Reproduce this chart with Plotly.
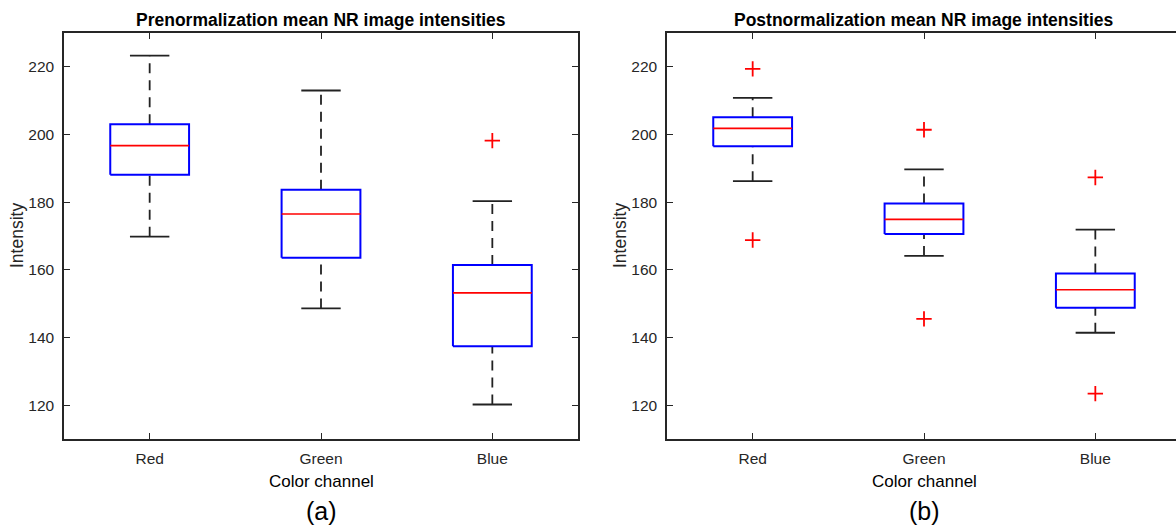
import plotly.graph_objects as go

# ---------------- data ----------------
categories = ["Red", "Green", "Blue"]

pre_q1 = [188.1, 163.6, 137.4]
pre_median = [196.7, 176.5, 153.2]
pre_q3 = [203.0, 183.7, 161.4]
pre_lower = [169.8, 148.6, 120.2]
pre_upper = [223.3, 213.0, 180.3]
pre_outliers = [[], [], [198.2]]

post_q1 = [196.5, 170.6, 148.8]
post_median = [201.8, 174.9, 154.1]
post_q3 = [205.1, 179.6, 158.9]
post_lower = [186.2, 164.1, 141.4]
post_upper = [210.8, 189.7, 171.9]
post_outliers = [[219.4, 168.8], [201.4, 145.5], [187.3, 123.4]]

y_ticks = [120, 140, 160, 180, 200, 220]

# ---------------- figure ----------------
W, H = 1176, 528
fig = go.Figure()

BOX_HW = 0.23
CAP_HW = 0.115
AXCOL = "#262626"


def add_panel(q1, med, q3, lo, hi, outs, xa, ya):
    pos = list(range(1, len(categories) + 1))
    # whiskers (dashed)
    wx, wy = [], []
    for p, a, b, c, d in zip(pos, lo, q1, q3, hi):
        wx += [p, p, None, p, p, None]
        wy += [a, b, None, c, d, None]
    fig.add_trace(go.Scatter(x=wx, y=wy, mode="lines", xaxis=xa, yaxis=ya,
                             line=dict(color="#222222", width=1.8, dash="10px,7px"),
                             hoverinfo="skip", showlegend=False))
    # caps
    cx, cy = [], []
    for p, a, d in zip(pos, lo, hi):
        cx += [p - CAP_HW, p + CAP_HW, None, p - CAP_HW, p + CAP_HW, None]
        cy += [a, a, None, d, d, None]
    fig.add_trace(go.Scatter(x=cx, y=cy, mode="lines", xaxis=xa, yaxis=ya,
                             line=dict(color="#222222", width=1.8),
                             hoverinfo="skip", showlegend=False))
    # boxes
    bx, by = [], []
    for p, b, c in zip(pos, q1, q3):
        bx += [p - BOX_HW, p + BOX_HW, p + BOX_HW, p - BOX_HW, p - BOX_HW, None]
        by += [b, b, c, c, b, None]
    fig.add_trace(go.Scatter(x=bx, y=by, mode="lines", xaxis=xa, yaxis=ya,
                             line=dict(color="#0000ff", width=2),
                             hoverinfo="skip", showlegend=False))
    # medians
    mx, my = [], []
    for p, m in zip(pos, med):
        mx += [p - BOX_HW, p + BOX_HW, None]
        my += [m, m, None]
    fig.add_trace(go.Scatter(x=mx, y=my, mode="lines", xaxis=xa, yaxis=ya,
                             line=dict(color="#ff0000", width=1.6),
                             hoverinfo="skip", showlegend=False))
    # outliers
    ox, oy = [], []
    for p, vals in zip(pos, outs):
        for v in vals:
            ox.append(p)
            oy.append(v)
    fig.add_trace(go.Scatter(x=ox, y=oy, mode="markers", xaxis=xa, yaxis=ya,
                             marker=dict(symbol="cross-thin", size=11,
                                         line=dict(color="#ff0000", width=1.8)),
                             hoverinfo="skip", showlegend=False))


add_panel(pre_q1, pre_median, pre_q3, pre_lower, pre_upper, pre_outliers, "x", "y")
add_panel(post_q1, post_median, post_q3, post_lower, post_upper, post_outliers, "x2", "y2")


def px_x(v):
    return v / W


def px_y(v):
    return 1 - v / H


font_family = "Liberation Sans, Arial, Helvetica, sans-serif"
tickfont = dict(family=font_family, size=15.5, color=AXCOL)

common_x = dict(tickmode="array", tickvals=[1, 2, 3], ticktext=categories,
                ticks="inside", ticklen=6, tickwidth=1.2, tickcolor=AXCOL,
                showline=True, linecolor=AXCOL, linewidth=1.5,
                showgrid=False, zeroline=False, tickfont=tickfont,
                automargin=False, ticklabelstandoff=5, fixedrange=True)
common_y = dict(tickmode="array", tickvals=y_ticks,
                ticks="inside", ticklen=6, tickwidth=1.2, tickcolor=AXCOL,
                showline=True, linecolor=AXCOL, linewidth=1.5,
                showgrid=False, zeroline=False, tickfont=tickfont,
                automargin=False, ticklabelstandoff=5, range=[110, 230],
                fixedrange=True)

left_l, left_r = 64, 578
right_l = 667
ytop, ybot = 33, 439
spacing = (left_r - left_l) / 3.0
right_hi = 0.5 + (W - right_l) / spacing

fig.update_layout(
    width=W, height=H,
    margin=dict(l=0, r=0, t=0, b=0),
    paper_bgcolor="white", plot_bgcolor="white",
    showlegend=False,
    xaxis=dict(common_x, domain=[px_x(left_l), px_x(left_r)], range=[0.5, 3.5],
               mirror="ticks", anchor="y"),
    yaxis=dict(common_y, domain=[px_y(ybot), px_y(ytop)], mirror="ticks", anchor="x"),
    xaxis2=dict(common_x, domain=[px_x(right_l), 1.0], range=[0.5, right_hi],
                mirror="ticks", anchor="y2"),
    yaxis2=dict(common_y, domain=[px_y(ybot), px_y(ytop)], mirror=False, anchor="x2"),
)

ann = []
lc = (left_l + left_r) / 2
rc = (right_l + right_l + (left_r - left_l)) / 2
for cx, title, lab, ylx in [(lc, "Prenormalization mean NR image intensities", "(a)", 17),
                            (rc, "Postnormalization mean NR image intensities", "(b)", 620)]:
    ann.append(dict(x=px_x(cx), y=px_y(19.5), xref="paper", yref="paper",
                    text="<b>" + title + "</b>", showarrow=False,
                    font=dict(family=font_family, size=17.5, color="black"),
                    xanchor="center", yanchor="middle"))
    ann.append(dict(x=px_x(cx), y=px_y(481), xref="paper", yref="paper",
                    text="Color channel", showarrow=False,
                    font=dict(family=font_family, size=17, color="black"),
                    xanchor="center", yanchor="middle"))
    ann.append(dict(x=px_x(cx), y=px_y(511), xref="paper", yref="paper",
                    text=lab, showarrow=False,
                    font=dict(family=font_family, size=25, color="black"),
                    xanchor="center", yanchor="middle"))
    ann.append(dict(x=px_x(ylx), y=px_y((ytop + ybot) / 2), xref="paper", yref="paper",
                    text="Intensity", showarrow=False, textangle=-90,
                    font=dict(family=font_family, size=17.5, color=AXCOL),
                    xanchor="center", yanchor="middle"))
fig.update_layout(annotations=ann)

fig.write_html("out.html")
